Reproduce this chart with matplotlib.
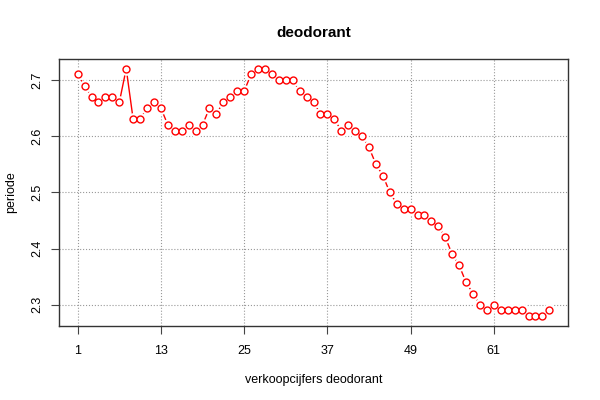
import matplotlib
matplotlib.use('Agg')
import matplotlib.pyplot as plt
import numpy as np

plt.rcParams['font.family'] = ['Liberation Sans', 'DejaVu Sans']

# values
periode = [2.71, 2.69, 2.67, 2.66, 2.67, 2.67, 2.66, 2.72, 2.63, 2.63,
           2.65, 2.66, 2.65, 2.62, 2.61, 2.61, 2.62, 2.61, 2.62, 2.65,
           2.64, 2.66, 2.67, 2.68, 2.68, 2.71, 2.72, 2.72, 2.71, 2.70,
           2.70, 2.70, 2.68, 2.67, 2.66, 2.64, 2.64, 2.63, 2.61, 2.62,
           2.61, 2.60, 2.58, 2.55, 2.53, 2.50, 2.48, 2.47, 2.47, 2.46,
           2.46, 2.45, 2.44, 2.42, 2.39, 2.37, 2.34, 2.32, 2.30, 2.29,
           2.30, 2.29, 2.29, 2.29, 2.29, 2.28, 2.28, 2.28, 2.29]
x_ticks = [1, 13, 25, 37, 49, 61]
y_ticks = [2.3, 2.4, 2.5, 2.6, 2.7]

x = np.arange(1, len(periode) + 1)

fig = plt.figure(figsize=(6, 4), dpi=100)
ax = fig.add_axes([0.098, 0.185, 0.849, 0.668])

# line first, then white discs to make the gaps, then the open circles (like R type="b")
ax.plot(x, periode, color='red', lw=1, zorder=2)
ax.plot(x, periode, ls='none', marker='o', ms=8, mfc='white', mec='white', zorder=3)
ax.plot(x, periode, ls='none', marker='o', ms=5, mfc='white', mec='red', mew=1, zorder=4)

ax.set_xlim(1 - 0.04 * 68, 69 + 0.04 * 68)
ax.set_ylim(2.28 - 0.04 * 0.44, 2.72 + 0.04 * 0.44)
ax.set_xticks(x_ticks)
ax.set_yticks(y_ticks)
ax.set_yticklabels([str(v) for v in y_ticks], rotation=90, va='center')
ax.tick_params(direction='out', length=6, labelsize=9, color='#444444')
ax.tick_params(axis='x', pad=8)
ax.tick_params(axis='y', pad=5)
ax.grid(True, color='#999999', linestyle=':', linewidth=0.8)
ax.set_axisbelow(True)
for s in ax.spines.values():
    s.set_linewidth(1)
    s.set_color('#333333')

ax.set_title('deodorant', fontsize=11, fontweight='bold', pad=16)
ax.set_xlabel('verkoopcijfers deodorant', fontsize=9, labelpad=12)
ax.set_ylabel('periode', fontsize=9, labelpad=10)

plt.savefig('out.png', dpi=100)
